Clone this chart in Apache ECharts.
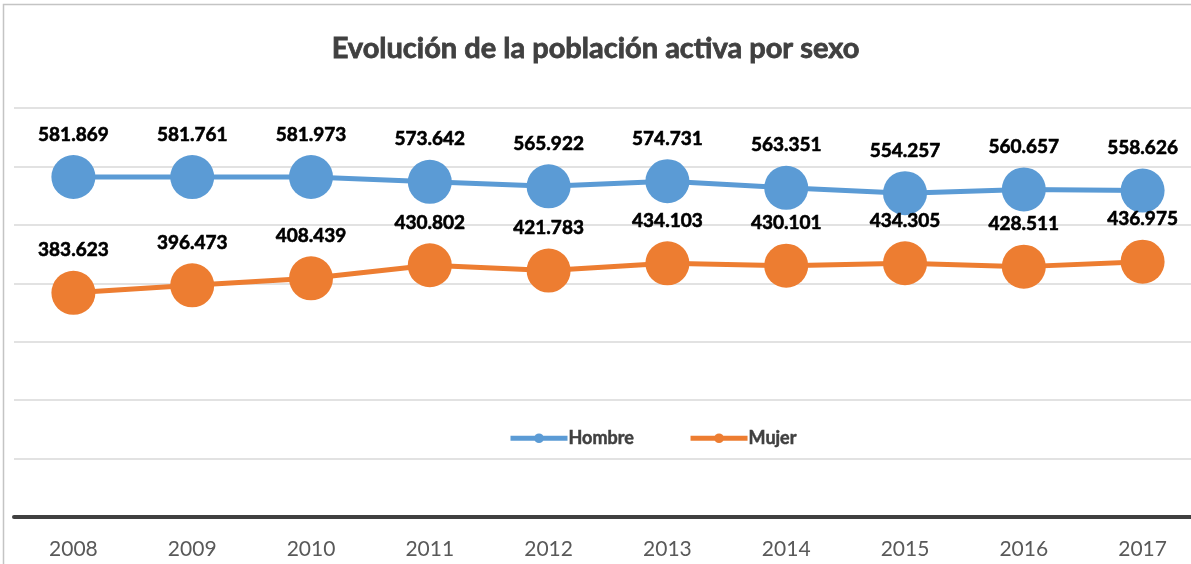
<!DOCTYPE html>
<html>
<head>
<meta charset="utf-8">
<script src="https://cdn.jsdelivr.net/npm/echarts@6/dist/echarts.min.js"></script>
<style>
  html, body { margin: 0; padding: 0; background: #fff; }
  #chart { width: 1191px; height: 564px; }
</style>
</head>
<body>
<div id="chart"></div>
<script>
const years = ['2008', '2009', '2010', '2011', '2012', '2013', '2014', '2015', '2016', '2017']
const hombre = [581869, 581761, 581973, 573642, 565922, 574731, 563351, 554257, 560657, 558626]
const mujer = [383623, 396473, 408439, 430802, 421783, 434103, 430101, 434305, 428511, 436975]

// 581869 -> "581.869"
const fmt = v => String(v).replace(/\B(?=(\d{3})+(?!\d))/g, '.')

const chart = echarts.init(document.getElementById('chart'))

function serie(name, data, color) {
  return {
    name: name,
    type: 'line',
    data: data,
    symbol: 'circle',
    symbolSize: 44,
    color: color,
    lineStyle: { width: 5, color: color },
    itemStyle: { color: color },
    label: {
      show: true,
      position: 'top',
      distance: 11,
      formatter: p => fmt(p.value),
      color: '#000',
      fontWeight: 'bold',
      fontSize: 19,
      fontFamily: 'Lato',
      textBorderColor: '#000',
      textBorderWidth: 0.6,
    },
    emphasis: { disabled: true },
    animation: false,
  }
}

chart.setOption({
  title: {
    text: 'Evolución de la población activa por sexo',
    left: 'center',
    top: 29,
    textStyle: {
      color: '#404040',
      fontSize: 29,
      fontWeight: 'bold',
      fontFamily: 'Lato',
      textBorderColor: '#404040',
      textBorderWidth: 0.8,
    },
  },
  legend: {
    left: 503,
    top: 424,
    itemWidth: 57,
    itemHeight: 12,
    itemGap: 54,
    lineStyle: { width: 5 },
    textStyle: {
      color: '#404040',
      fontSize: 18,
      fontWeight: 'bold',
      fontFamily: 'Lato',
      textBorderColor: '#404040',
      textBorderWidth: 0.5,
      padding: [0, 0, 0, -4],
    },
    data: ['Hombre', 'Mujer'],
  },
  graphic: [
    {
      type: 'rect',
      shape: { x: 3.5, y: 4.5, width: 1300, height: 700 },
      style: { fill: 'none', stroke: '#c4c4c4', lineWidth: 1.5 },
      z: -1,
    },
  ],
  grid: {
    left: 14,
    top: 108,
    width: 1188,
    bottom: 47,
    outerBoundsMode: 'none',
  },
  xAxis: {
    type: 'category',
    data: years,
    boundaryGap: true,
    axisLine: { show: true, lineStyle: { color: '#404040', width: 4 } },
    axisTick: { show: false },
    axisLabel: {
      color: '#595959',
      fontSize: 21,
      fontFamily: 'Lato',
      margin: 22,
      alignMinLabel: 'center',
      alignMaxLabel: 'center',
    },
  },
  yAxis: {
    type: 'value',
    min: 0,
    max: 700000,
    interval: 100000,
    axisLine: { show: false },
    axisTick: { show: false },
    axisLabel: { show: false },
    splitLine: { show: true, lineStyle: { color: '#d9d9d9', width: 1.5 } },
  },
  series: [
    serie('Hombre', hombre, '#5b9bd5'),
    serie('Mujer', mujer, '#ed7d31'),
  ],
})
</script>
</body>
</html>
